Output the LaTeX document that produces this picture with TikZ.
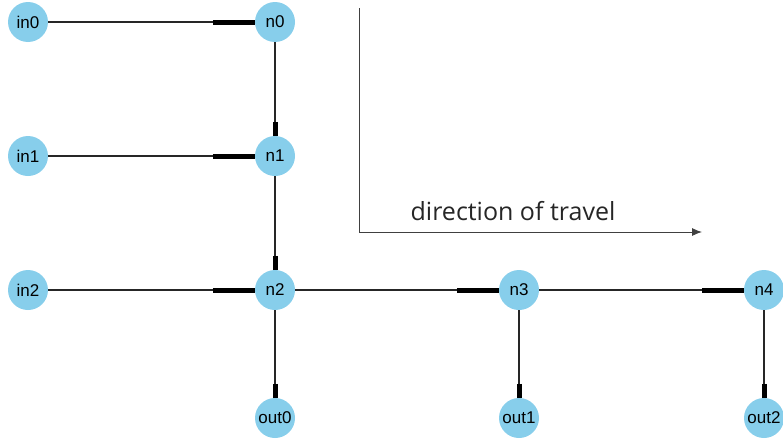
\documentclass[tikz,border=0pt]{standalone}
\usepackage{fontspec}
\setmainfont{Liberation Sans}
\newfontfamily\dirfont{Open Sans}
\usetikzlibrary{calc,arrows.meta}
\begin{document}
\begin{tikzpicture}[x=1pt,y=-1pt,
  nd/.style={circle,fill=nodeblue,minimum size=40pt,inner sep=0pt,font=\fontsize{17}{17}\selectfont},
  edge/.style={draw=black!85,line width=1.3pt},
  hbar/.style={draw=black,line width=5pt},
  vbar/.style={draw=black,line width=5pt}]
\definecolor{nodeblue}{RGB}{135,206,235}
\useasboundingbox (0,0) rectangle (783,439);
\node[nd] (in0) at (28,22) {in0};
\node[nd] (n0) at (275,22) {n0};
\node[nd] (in1) at (28,156) {in1};
\node[nd] (n1) at (275,156) {n1};
\node[nd] (in2) at (28,290) {in2};
\node[nd] (n2) at (275,290) {n2};
\node[nd] (n3) at (519,290) {n3};
\node[nd] (n4) at (764,290) {n4};
\node[nd] (out0) at (275,418) {out0};
\node[nd] (out1) at (519,418) {out1};
\node[nd] (out2) at (764,418) {out2};
% horizontal edges
\foreach \a/\b in {in0/n0,in1/n1,in2/n2,n2/n3,n3/n4}{
  \draw[edge] (\a) -- (\b);
  \draw[hbar] ($(\b.west)+(-42,0)$) -- (\b.west);
}
% vertical edges
\foreach \a/\b in {n0/n1,n1/n2,n2/out0,n3/out1,n4/out2}{
  \draw[edge] (\a) -- (\b);
  \draw[vbar] ($(\b.north)+(0,-14)$) -- (\b.north);
}
\coordinate (dtop) at (359,8);
\coordinate (dcorner) at (359,232);
\coordinate (dend) at (702,232);
\draw[black!75,line width=0.9pt,-{Latex[length=10pt,width=8pt]}] (dtop) -- (dcorner) -- (dend);
\node[font=\dirfont\fontsize{25}{25}\selectfont,text=black!85,anchor=base,inner sep=0pt] (dirlabel) at (513,220) {direction of travel};
\end{tikzpicture}
\end{document}
